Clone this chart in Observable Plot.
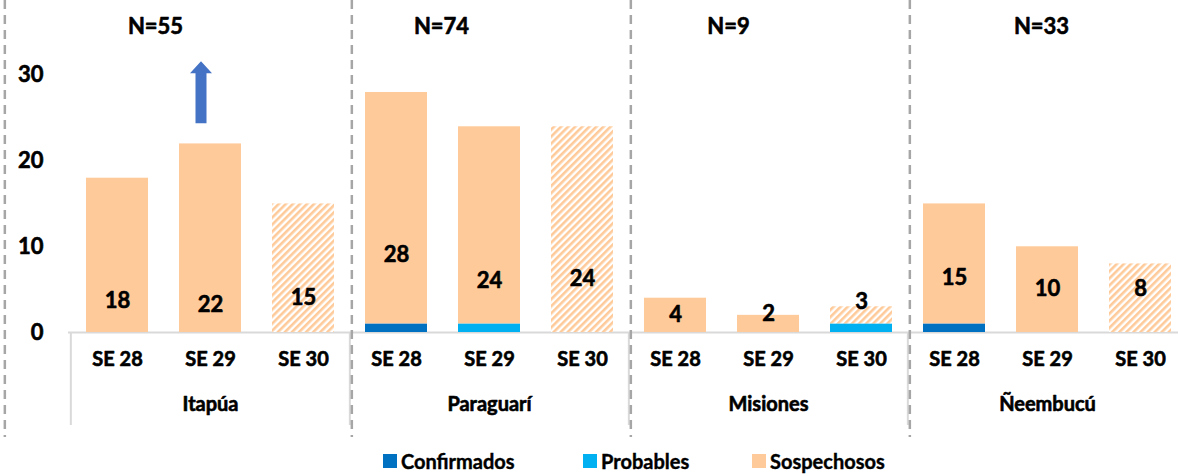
<!DOCTYPE html>
<html>
<head>
<meta charset="utf-8">
<script src="https://cdn.jsdelivr.net/npm/d3@7"></script>
<script src="https://cdn.jsdelivr.net/npm/@observablehq/plot@0.6"></script>
<style>
  html, body { margin: 0; padding: 0; background: #fff; overflow: hidden; }
  #wrap { width: 1178px; font-family: Lato, "Open Sans", sans-serif; }
  #legend { height: 31px; display: flex; align-items: center; padding-left: 383px; font-weight: 700; font-size: 20px; color: #000; -webkit-text-stroke: 0.4px #000; }
  .item { display: flex; align-items: center; }
  .sw { width: 14px; height: 14px; margin-right: 4px; }
</style>
</head>
<body>
<div id="wrap"><div id="chart"></div><div id="legend"></div></div>
<script>
// ---- data ----
const groups = ["Itapúa", "Paraguarí", "Misiones", "Ñeembucú"];
const weeks = ["SE 28", "SE 29", "SE 30"];
const types = ["Confirmados", "Probables", "Sospechosos"];
const confirmados = [[0, 0, 0], [1, 0, 0], [0, 0, 0], [1, 0, 0]];
const probables   = [[0, 0, 0], [0, 1, 0], [0, 0, 1], [0, 0, 0]];
const sospechosos = [[18, 22, 15], [27, 23, 24], [4, 2, 2], [14, 10, 8]];
const totals      = [[18, 22, 15], [28, 24, 24], [4, 2, 3], [15, 10, 8]];
const labelAt     = [[3.7, 3.2, 4.0], [9.0, 6.0, 6.2], [2.1, 2.2, 3.6], [6.4, 5.1, 5.1]];
const nLabels = ["N=55", "N=74", "N=9", "N=33"];
const yTicks = [0, 10, 20, 30];
const projectedWeek = "SE 30";
const arrowGroup = "Itapúa", arrowWeek = "SE 29", arrowBase = 24.4;

// ---- styles ----
const typeColors = {Confirmados: "#0070C0", Probables: "#00B0F0", Sospechosos: "#FFCA99"};
const FONT = "Lato, 'Open Sans', sans-serif";

const keys = groups.flatMap(g => weeks.map(w => g + "|" + w));
const series = {Confirmados: confirmados, Probables: probables, Sospechosos: sospechosos};
const rows = [];
groups.forEach((g, i) => weeks.forEach((w, j) => types.forEach(t => {
  rows.push({key: g + "|" + w, group: g, week: w, type: t, value: series[t][i][j]});
})));
const labels = [];
groups.forEach((g, i) => weeks.forEach((w, j) => {
  labels.push({key: g + "|" + w, total: totals[i][j], pos: labelAt[i][j]});
}));

const W = 1178, H = 445, ML = 68, MT = 32, MB = 113;
const step = (1188 - ML) / keys.length;
const nDx = [-55, -48, -40, -6];

const arrowSymbol = {
  draw(ctx) {
    const L = 62, hw = 5.5, hh = 11, head = 12;
    ctx.moveTo(-hw, 0);
    ctx.lineTo(-hw, -L + head);
    ctx.lineTo(-hh, -L + head);
    ctx.lineTo(0, -L);
    ctx.lineTo(hh, -L + head);
    ctx.lineTo(hw, -L + head);
    ctx.lineTo(hw, 0);
    ctx.closePath();
  }
};

const txt = {fill: "#000", fontWeight: "bold", stroke: "#000", strokeWidth: 0.6};

const chart = Plot.plot({
  width: W, height: H,
  marginLeft: ML, marginRight: 0, marginTop: MT, marginBottom: MB,
  style: {fontFamily: FONT, background: "white", color: "#000"},
  x: {domain: keys, range: [ML, 1188], paddingInner: 0.335, paddingOuter: 0.1675, axis: null},
  y: {domain: [0, 35], axis: null},
  color: {type: "identity"},
  marks: [
    Plot.ruleY([0], {stroke: "#D9D9D9", strokeWidth: 2}),
    Plot.ruleX(groups, {x: g => g + "|SE 28", dx: -step / 2, stroke: "#D9D9D9", strokeWidth: 2, insetTop: H - MB - MT, insetBottom: -93}),
    Plot.barY(rows, {
      x: "key", y: "value", z: "type", order: types,
      fill: d => (d.type === "Sospechosos" && d.week === projectedWeek) ? "url(#hatch)" : typeColors[d.type]
    }),
    Plot.text(labels, {x: "key", y: "pos", text: d => String(d.total), fontSize: 22, ...txt}),
    Plot.text(yTicks, {y: d => d, frameAnchor: "left", dx: -25, textAnchor: "end", text: d => String(d), fontSize: 22, ...txt}),
    Plot.text(keys, {x: d => d, frameAnchor: "bottom", dy: 33, text: d => d.split("|")[1], fontSize: 20, ...txt}),
    Plot.text(groups, {x: g => g + "|SE 29", frameAnchor: "bottom", dy: 78, text: g => g, fontSize: 20, ...txt}),
    ...groups.map((g, i) => Plot.text([nLabels[i]], {x: () => g + "|SE 29", frameAnchor: "top", dy: -14, dx: nDx[i], text: d => d, fontSize: 22, ...txt})),
    Plot.ruleX(groups.slice(1), {x: g => g + "|SE 28", dx: -step / 2 + 2, stroke: "#A6A6A6", strokeWidth: 2.5, strokeDasharray: "9,6", insetTop: -MT, insetBottom: -105}),
    Plot.ruleX([keys[0]], {x: d => d, dx: -step / 2 - 66, stroke: "#A6A6A6", strokeWidth: 2.5, strokeDasharray: "9,6", insetTop: -MT, insetBottom: -105}),
    Plot.dot([{key: arrowGroup + "|" + arrowWeek, y: arrowBase}], {x: "key", y: "y", dx: -9.5, symbol: arrowSymbol, fill: "#4472C4", stroke: "none"})
  ]
});

// hatch pattern for projected week
const NS = "http://www.w3.org/2000/svg";
const defs = document.createElementNS(NS, "defs");
defs.innerHTML = `<pattern id="hatch" patternUnits="userSpaceOnUse" width="5" height="5" patternTransform="rotate(45)">
  <rect x="0" y="0" width="5" height="5" fill="#fff"></rect>
  <rect x="0" y="0" width="2.6" height="5" fill="${typeColors.Sospechosos}"></rect>
</pattern>`;
chart.insertBefore(defs, chart.firstChild);
document.getElementById("chart").appendChild(chart);

// legend
const legend = document.getElementById("legend");
const itemWidths = [200, 169, null];
types.forEach((t, i) => {
  const it = document.createElement("div");
  it.className = "item";
  if (itemWidths[i]) it.style.width = itemWidths[i] + "px";
  const sw = document.createElement("div");
  sw.className = "sw";
  sw.style.background = typeColors[t];
  const tx = document.createElement("span");
  tx.textContent = t;
  it.appendChild(sw); it.appendChild(tx);
  legend.appendChild(it);
});
</script>
</body>
</html>
